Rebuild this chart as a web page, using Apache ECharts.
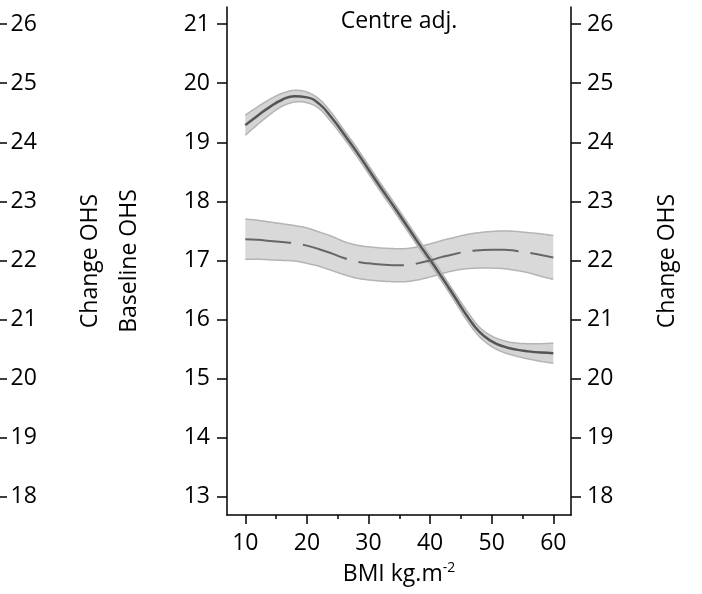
<!DOCTYPE html>
<html><head><meta charset="utf-8">
<script src="https://cdn.jsdelivr.net/npm/echarts@6/dist/echarts.min.js"></script>
<style>html,body{margin:0;padding:0;background:#fff}#c{width:702px;height:594px}</style>
</head><body><div id="c"></div>
<script>
const bmi = [10,12,14,16,18,20,22,24,26,28,30,32,34,36,38,40,42,44,46,48,50,52,54,56,58,60];
const baselineMean = [19.29,19.45,19.60,19.72,19.78,19.76,19.65,19.42,19.14,18.85,18.54,18.23,17.93,17.62,17.31,17.01,16.70,16.38,16.06,15.79,15.63,15.54,15.49,15.46,15.44,15.43];
const baselineLow  = [19.12,19.30,19.47,19.61,19.68,19.67,19.57,19.34,19.07,18.78,18.47,18.16,17.86,17.55,17.24,16.94,16.63,16.31,15.98,15.71,15.54,15.44,15.38,15.33,15.29,15.26];
const baselineHigh = [19.46,19.60,19.73,19.83,19.88,19.85,19.73,19.50,19.21,18.92,18.61,18.30,18.00,17.69,17.38,17.08,16.77,16.45,16.14,15.87,15.72,15.64,15.60,15.59,15.59,15.60];
const changeMean = [22.36,22.35,22.33,22.31,22.29,22.25,22.19,22.12,22.04,21.98,21.95,21.93,21.92,21.92,21.95,22.00,22.06,22.11,22.15,22.17,22.18,22.18,22.16,22.13,22.09,22.05];
const changeLow  = [22.02,22.02,22.01,22.00,21.99,21.95,21.90,21.83,21.76,21.70,21.67,21.65,21.64,21.64,21.67,21.72,21.78,21.83,21.86,21.87,21.87,21.86,21.83,21.79,21.73,21.68];
const changeHigh = [22.70,22.68,22.65,22.62,22.59,22.55,22.48,22.41,22.32,22.26,22.23,22.21,22.20,22.20,22.23,22.28,22.34,22.39,22.44,22.47,22.49,22.50,22.49,22.47,22.45,22.42];
const xTicks = [10,20,30,40,50,60];
const xMinorTicks = [15,25,35,45,55];
const leftTicks = [13,14,15,16,17,18,19,20,21];
const rightTicks = [18,19,20,21,22,23,24,25,26];

const FONT = 'Open Sans';
const chart = echarts.init(document.getElementById('c'), null, {renderer:'canvas'});
const pair = (a) => bmi.map((x,i)=>[x, a[i]]);
const axisLine = {show:true, lineStyle:{color:'#000', width:1.5}};
const tickStyle = {color:'#000', width:1.5};
const labelStyle = {color:'#000', fontSize:23, fontFamily:FONT};
const nameStyle = {color:'#000', fontSize:23, fontFamily:FONT};

// Catmull-Rom sampling of pixel points (for smooth band edges)
function spline(pts, steps) {
  const out = [], n = pts.length;
  for (let i = 0; i < n - 1; i++) {
    const p0 = pts[Math.max(i-1,0)], p1 = pts[i], p2 = pts[i+1], p3 = pts[Math.min(i+2,n-1)];
    for (let s = 0; s < steps; s++) {
      const t = s/steps, t2 = t*t, t3 = t2*t;
      out.push([0,1].map(k => 0.5*((2*p1[k]) + (-p0[k]+p2[k])*t + (2*p0[k]-5*p1[k]+4*p2[k]-p3[k])*t2 + (-p0[k]+3*p1[k]-3*p2[k]+p3[k])*t3)));
    }
  }
  out.push(pts[n-1].slice());
  return out;
}
function bandSeries(lo, hi, yIdx, fill, z) {
  return {
    type:'custom', xAxisIndex:0, yAxisIndex:yIdx, z:z, clip:true, silent:true,
    data:[[bmi[0], lo[0]]],
    renderItem:function(params, api) {
      const up = spline(bmi.map((x,i)=>api.coord([x, hi[i]])), 10);
      const dn = spline(bmi.map((x,i)=>api.coord([x, lo[i]])), 10);
      const poly = up.concat(dn.slice().reverse());
      return {type:'group', children:[
        {type:'polygon', shape:{points:poly}, style:{fill:fill, stroke:null}},
        {type:'polyline', shape:{points:up}, style:{fill:null, stroke:'#b4b4b4', lineWidth:1.5}},
        {type:'polyline', shape:{points:dn}, style:{fill:null, stroke:'#b4b4b4', lineWidth:1.5}}
      ]};
    }
  };
}

const option = {
  animation:false,
  backgroundColor:'#fff',
  grid:[
    {left:227, right:131, top:7, bottom:79, outerBoundsMode:'none'},
    {left:0, width:0.5, top:7, bottom:79, outerBoundsMode:'none'}
  ],
  graphic:[{type:'text', x:399, y:10, z:100, style:{text:'Centre adj.', align:'center', verticalAlign:'top', fill:'#000', font:'23px "Open Sans"'}}],
  xAxis:[
    {gridIndex:0, type:'value', min:7.03, max:62.87, position:'bottom',
     axisLine:axisLine, axisTick:{show:true, customValues:xTicks, length:9, lineStyle:tickStyle},
     axisLabel:Object.assign({customValues:xTicks, margin:17}, labelStyle), splitLine:{show:false},
     name:'BMI kg.m{sup|-2}', nameLocation:'middle', nameGap:46,
     nameTextStyle:Object.assign({rich:{sup:{fontSize:14, fontFamily:FONT, color:'#000', padding:[0,0,12,0]}}}, nameStyle)},
    {gridIndex:0, type:'value', min:7.03, max:62.87, position:'bottom',
     axisLine:{show:false}, axisTick:{show:true, customValues:xMinorTicks, length:4, lineStyle:tickStyle},
     axisLabel:{show:false}, splitLine:{show:false}},
    {gridIndex:1, type:'value', min:0, max:1, show:false}
  ],
  yAxis:[
    {gridIndex:0, type:'value', position:'left', min:12.69, max:21.29,
     axisLine:axisLine, axisTick:{show:true, customValues:leftTicks, length:10, lineStyle:tickStyle},
     axisLabel:Object.assign({customValues:leftTicks, margin:17}, labelStyle), splitLine:{show:false},
     name:'Baseline OHS', nameLocation:'middle', nameGap:86, nameTextStyle:nameStyle},
    {gridIndex:0, type:'value', position:'right', min:17.69, max:26.29,
     axisLine:axisLine, axisTick:{show:true, customValues:rightTicks, length:10, lineStyle:tickStyle},
     axisLabel:Object.assign({customValues:rightTicks, margin:16}, labelStyle), splitLine:{show:false},
     name:'Change OHS', nameLocation:'middle', nameGap:85, nameTextStyle:nameStyle},
    {gridIndex:1, type:'value', position:'right', min:17.69, max:26.29,
     axisLine:{show:false}, axisTick:{show:true, customValues:rightTicks, length:7, lineStyle:tickStyle},
     axisLabel:Object.assign({customValues:rightTicks, margin:10}, labelStyle), splitLine:{show:false},
     name:'Change OHS', nameLocation:'middle', nameGap:78, nameTextStyle:nameStyle}
  ],
  series:[
    bandSeries(changeLow, changeHigh, 1, '#d9d9d9', 1),
    bandSeries(baselineLow, baselineHigh, 0, '#d4d4d4', 2),
    {type:'line', xAxisIndex:0, yAxisIndex:0, data:pair(baselineMean), smooth:0.5, symbol:'none', lineStyle:{color:'#555', width:2.5}, z:3},
    {type:'line', xAxisIndex:0, yAxisIndex:1, data:pair(changeMean), smooth:0.5, symbol:'none', lineStyle:{color:'#666', width:2, type:[46,12]}, z:4}
  ]
};
chart.setOption(option);
</script></body></html>
